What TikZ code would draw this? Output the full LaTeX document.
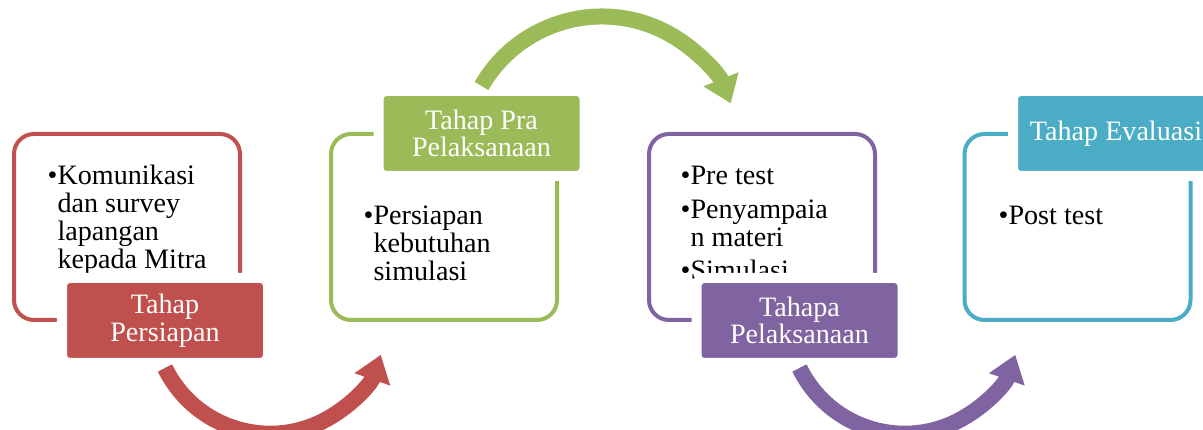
\documentclass[tikz,border=0pt]{standalone}
\usepackage{fontspec}
\setmainfont{Liberation Serif}
\usetikzlibrary{arrows.meta}
\definecolor{merah}{HTML}{C0504D}
\definecolor{hijau}{HTML}{9BBB59}
\definecolor{ungu}{HTML}{8064A2}
\definecolor{biru}{HTML}{4BACC6}
\newcommand{\daftar}[1]{\begin{tabular}[t]{@{}l@{}l@{}}#1\end{tabular}}

\begin{document}
\begin{tikzpicture}
    [font=\fontsize{8}{7.85}\selectfont,
     frame/.style={draw,line width=0.04cm,rounded corners=0.2cm,minimum width=2.26cm,minimum height=1.86cm},
     tag/.style={draw=white,line width=0.1cm,rounded corners=0.08cm,minimum width=2.06cm,minimum height=0.85cm,inner sep=0pt,text=white,align=center},
     isi/.style={anchor=base west,inner sep=0pt},
     flow/.style={line width=0.16cm,-{Triangle[width=0.36cm,length=0.26cm]}}]
    \useasboundingbox (0,0) rectangle (12.03,4.30);
    \clip (0,0) rectangle (12.03,4.30);
    \node [frame,draw=merah] (B1) at (1.27,2.03) {};
    \node [frame,draw=hijau] (B2) at (4.44,2.03) {};
    \node [frame,draw=ungu] (B3) at (7.62,2.03) {};
    \node [frame,draw=biru] (B4) at (10.775,2.03) {};
    \node [isi] (P1) at (0.47,2.45) {\daftar{•&Komunikasi\\ &dan survey\\ &lapangan\\ &kepada Mitra}};
    \node [isi] (P2) at (3.63,2.05) {\daftar{•&Persiapan\\ &kebutuhan\\ &simulasi}};
    \node [isi] (P3) at (6.80,2.45) {\daftar{•&Pre test\\[0.06cm] •&Penyampaia\\ &n materi\\[0.06cm] •&Simulasi}};
    \node [isi] (P4) at (9.98,2.05) {\daftar{•&Post test}};
    \node [tag,fill=merah] (L1) at (1.65,1.095) {Tahap\\Persiapan};
    \node [tag,fill=hijau] (L2) at (4.815,2.965) {Tahap Pra\\Pelaksanaan};
    \node [tag,fill=ungu] (L3) at (7.995,1.095) {Tahapa\\Pelaksanaan};
    \node [tag,fill=biru] (L4) at (11.16,2.965) {Tahap Evaluasi};
    \draw [flow,merah] (L1.south) arc [start angle=206,end angle=341,radius=1.17];
    \draw [flow,hijau] (L2.north) arc [start angle=150,end angle=22,radius=1.39];
    \draw [flow,ungu] (L3.south) arc [start angle=206,end angle=341,radius=1.17];
  \end{tikzpicture}
\end{document}
